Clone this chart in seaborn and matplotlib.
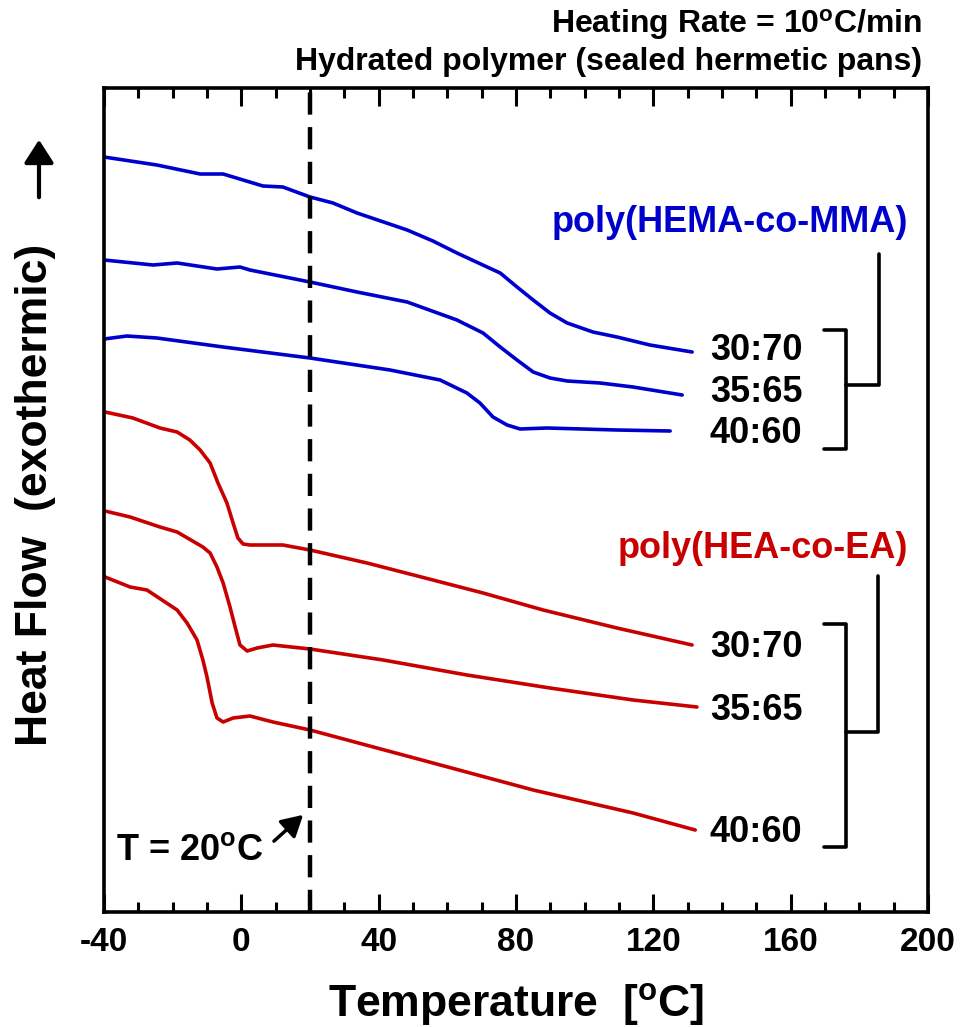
import numpy as np
import pandas as pd
import matplotlib
matplotlib.use("Agg")
import matplotlib.pyplot as plt
from matplotlib.ticker import MultipleLocator
import seaborn as sns

# DSC traces: temperature [C] and heat flow (arb. units, curves offset)
hema_3070_T = [-40, -24.6, -12.0, -5.3, 6.3, 12.1, 20.0, 26.7, 33.7, 48.3, 55.8, 62.8, 71.6, 75.4, 80.3, 85.0, 89.9, 94.9, 102.4, 109.4, 119.0, 131.3]
hema_3070_hf = [755, 747, 738, 738, 726, 725, 715, 709, 699, 682, 671, 659, 645, 639, 625, 612, 599, 589, 580, 575, 567, 560]

hema_3565_T = [-40, -25.7, -18.7, -7.1, -0.4, 2.5, 20.0, 33.7, 48.3, 62.8, 70.4, 75.4, 80.3, 85.0, 89.9, 94.9, 104.5, 114.1, 128.4]
hema_3565_hf = [652, 647, 649, 643, 645, 642, 630, 620, 610, 592, 579, 565, 552, 540, 534, 531, 529, 525, 517]

hema_4060_T = [-40, -33.3, -24.6, -5.3, 20.0, 43.3, 57.9, 65.7, 69.5, 73.3, 77.4, 81.2, 89.0, 109.4, 124.9]
hema_4060_hf = [573, 576, 574, 565, 554, 542, 532, 519, 509, 495, 487, 483, 484, 482, 481]

hea_3070_T = [-39.7, -31.6, -23.7, -18.7, -15.0, -12.0, -9.1, -6.8, -4.2, -2.4, -1.0, 0.5, 2.5, 12.1, 20.0, 36.6, 55.8, 70.4, 87.9, 109.4, 131.3]
hea_3070_hf = [500, 494, 484, 480, 472, 462, 449, 429, 409, 389, 374, 368, 367, 367, 362, 349, 332, 319, 302, 284, 267]

hea_3565_T = [-39.7, -32.4, -23.7, -18.7, -11.2, -9.1, -7.1, -5.3, -3.3, -1.8, -0.4, 1.7, 4.6, 9.2, 20.0, 41.3, 65.7, 89.9, 114.1, 132.7]
hea_3565_hf = [401, 395, 385, 380, 365, 359, 345, 329, 305, 285, 267, 261, 264, 267, 263, 252, 237, 224, 212, 205]

hea_4060_T = [-39.7, -32.4, -27.5, -18.7, -15.8, -12.9, -11.2, -10.0, -8.5, -7.1, -5.3, -2.4, 2.5, 9.2, 20.0, 55.8, 85.0, 114.1, 132.2]
hea_4060_hf = [335, 325, 322, 302, 289, 272, 252, 235, 209, 194, 190, 194, 196, 190, 182, 149, 122, 99, 82]

ratios = ["30:70", "35:65", "40:60"]
blue = "#0000CC"
red = "#C80000"

curves = {
    "HEMA 30:70": (hema_3070_T, hema_3070_hf),
    "HEMA 35:65": (hema_3565_T, hema_3565_hf),
    "HEMA 40:60": (hema_4060_T, hema_4060_hf),
    "HEA 30:70": (hea_3070_T, hea_3070_hf),
    "HEA 35:65": (hea_3565_T, hea_3565_hf),
    "HEA 40:60": (hea_4060_T, hea_4060_hf),
}
frames = []
for name, (t, hf) in curves.items():
    frames.append(pd.DataFrame({"temperature": t, "heat_flow": hf, "sample": name}))
df = pd.concat(frames, ignore_index=True)
palette = {k: (blue if k.startswith("HEMA") else red) for k in curves}

sns.set_theme(style="white")
plt.rcParams["font.family"] = ["Liberation Sans", "DejaVu Sans"]
plt.rcParams["font.weight"] = "bold"
plt.rcParams["text.color"] = "black"
plt.rcParams["axes.labelcolor"] = "black"
plt.rcParams["xtick.color"] = "black"
plt.rcParams["axes.unicode_minus"] = False
plt.rcParams["mathtext.fontset"] = "custom"
plt.rcParams["mathtext.rm"] = "Liberation Sans:bold"
plt.rcParams["mathtext.bf"] = "Liberation Sans:bold"
plt.rcParams["mathtext.default"] = "bf"

W, H = 967, 1027
fig = plt.figure(figsize=(W / 100, H / 100), dpi=100)
ax = fig.add_axes([104 / W, 115 / H, 824 / W, 824 / H])

sns.lineplot(data=df, x="temperature", y="heat_flow", hue="sample", units="sample",
             estimator=None, sort=False, palette=palette, linewidth=2.6,
             legend=False, ax=ax, solid_joinstyle="round", solid_capstyle="round")

ax.set_xlim(-40, 200)
ax.set_ylim(0, 824)
ax.xaxis.set_major_locator(MultipleLocator(40))
ax.xaxis.set_minor_locator(MultipleLocator(10))
ax.set_yticks([])
ax.tick_params(axis="x", which="both", direction="in", top=True, bottom=True,
               width=2.2, color="black", labelcolor="black", labelsize=24, pad=11)
ax.tick_params(axis="x", which="major", length=13)
ax.tick_params(axis="x", which="minor", length=7)
for s in ax.spines.values():
    s.set_linewidth(2.6)
    s.set_color("black")
ax.set_xlabel("")
ax.set_ylabel("")

# T = 20 C guide
ax.axvline(20, color="black", lw=3.2, dashes=(5, 2.8))
ax.text(6.3, 52, r"T = 20$^o$C", ha="right", va="baseline", fontsize=26)
ax.annotate("", xy=(18.6, 99), xytext=(8.9, 69),
            arrowprops=dict(arrowstyle="-|>,head_length=0.8,head_width=0.45",
                            mutation_scale=16, lw=2.5, color="black"))

# sample labels
for lab, yb in zip(ratios, [552, 510, 469]):
    ax.text(136.5, yb, lab, ha="left", va="baseline", fontsize=26)
for lab, yb in zip(ratios, [255, 192, 70]):
    ax.text(136.5, yb, lab, ha="left", va="baseline", fontsize=26)
ax.text(194.2, 680, "poly(HEMA-co-MMA)", color=blue, ha="right", va="baseline", fontsize=26)
ax.text(194.2, 354, "poly(HEA-co-EA)", color=red, ha="right", va="baseline", fontsize=26)

# brackets
ax.plot([169.7, 176.1, 176.1, 169.7], [582, 582, 463, 463], color="black", lw=2.6)
ax.plot([176.1, 185.7, 185.7], [527, 527, 658], color="black", lw=2.6)
ax.plot([169.7, 176.1, 176.1, 169.7], [288, 288, 65, 65], color="black", lw=2.6)
ax.plot([176.1, 185.5, 185.5], [180, 180, 336], color="black", lw=2.6)

# axis titles
fig.text(516 / W, 1 - 1017 / H, r"Temperature  [$^o$C]", ha="center", va="baseline", fontsize=32)
fig.text(36 / W, 1 - 495 / H, "Heat Flow  (exothermic)", rotation=90, ha="center", va="center", fontsize=32)
ax.annotate("", xy=(39 / W, 1 - 137 / H), xytext=(39 / W, 1 - 200 / H),
            xycoords="figure fraction", textcoords="figure fraction",
            arrowprops=dict(arrowstyle="-|>,head_length=0.7,head_width=0.45",
                            mutation_scale=20, lw=3, color="black"))

fig.text(922 / W, 1 - 33 / H, r"Heating Rate = 10$^o$C/min", ha="right", va="baseline", fontsize=23)
fig.text(922 / W, 1 - 70 / H, "Hydrated polymer (sealed hermetic pans)", ha="right", va="baseline", fontsize=23)

fig.savefig("out.png", dpi=100)
